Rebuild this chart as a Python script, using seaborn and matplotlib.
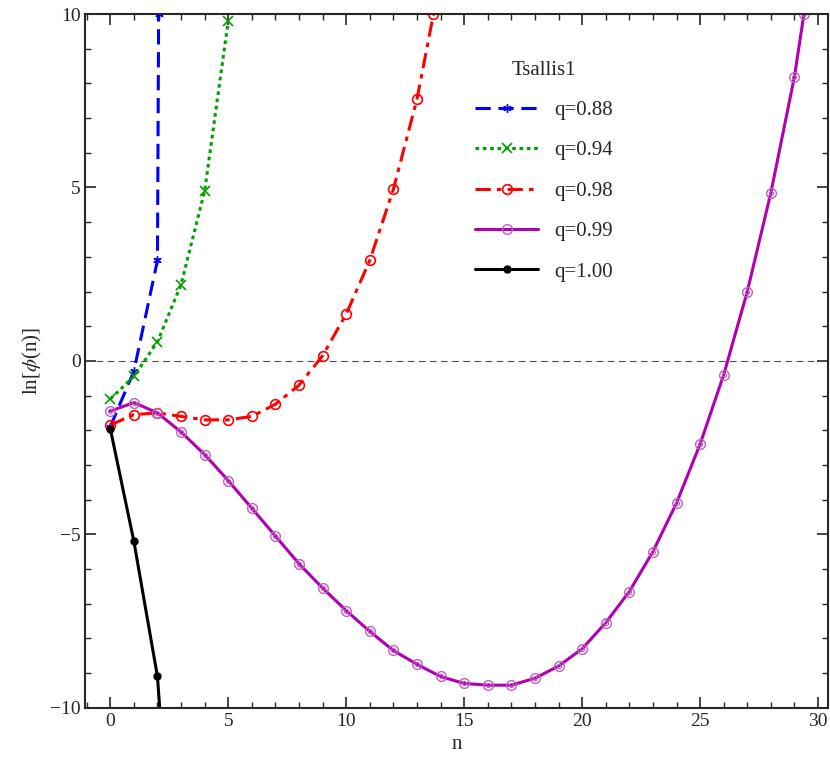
import matplotlib
matplotlib.use("Agg")
import matplotlib.pyplot as plt
import seaborn as sns
from matplotlib.ticker import MultipleLocator

sns.set_style("ticks")
plt.rcParams["font.family"] = "Liberation Serif"
plt.rcParams["mathtext.fontset"] = "stix"

n_088 = [0, 1, 2, 2.05]
v_088 = [-1.9, -0.3, 2.9, 10.0]
n_094 = [0, 1, 2, 3, 4, 5]
v_094 = [-1.1, -0.45, 0.55, 2.2, 4.9, 9.8]
n_098 = list(range(0, 14)) + [13.7]
v_098 = [-1.85, -1.55, -1.5, -1.6, -1.7, -1.7, -1.6, -1.25, -0.7, 0.15,
         1.35, 2.9, 4.95, 7.55, 10.0]
n_099 = list(range(0, 30)) + [29.4]
v_099 = [-1.45, -1.2, -1.5, -2.05, -2.7, -3.45, -4.25, -5.05, -5.85, -6.55,
         -7.2, -7.8, -8.35, -8.75, -9.1, -9.3, -9.35, -9.35, -9.15, -8.8,
         -8.3, -7.55, -6.65, -5.5, -4.1, -2.4, -0.4, 2.0, 4.85, 8.2, 10.0]
n_100 = [0, 1, 2, 2.2]
v_100 = [-1.95, -5.2, -9.1, -11.0]

fig, ax = plt.subplots(figsize=(8.3, 7.82), dpi=100)
ax.axhline(0, color="0.3", lw=0.8, ls=(0, (6, 4)))

series = [
    (n_088, v_088, "q=0.88", dict(color="#0000ff", ls=(0, (5, 2.5)), marker=(6, 2, 0), ms=6, mew=1)),
    (n_094, v_094, "q=0.94", dict(color="#00a000", ls=(0, (1.2, 1.2)), marker="x", ms=7, mew=1.2)),
    (n_098, v_098, "q=0.98", dict(color="#ff0000", ls=(0, (5, 2, 1.5, 2)), marker="o", ms=7,
                                  mfc="none", mew=1.2)),
    (n_099, v_099, "q=0.99", dict(color="#b000b0", ls="-", marker="o", ms=7, mfc="none",
                                  mec="#c060c0", mew=1)),
    (n_100, v_100, "q=1.00", dict(color="black", ls="-", marker="o", ms=5)),
]
for xs, ys, lab, kw in series:
    ax.plot(xs, ys, lw=2.2, label=lab, **kw)
# inner dot for purple double-circle markers
ax.plot(n_099, v_099, ls="none", marker="o", ms=3, mfc="none", mec="#c060c0", mew=0.8)

ax.set_xlim(-1.05, 30.4)
ax.set_ylim(-10, 10)
ax.xaxis.set_major_locator(MultipleLocator(5))
ax.xaxis.set_minor_locator(MultipleLocator(1))
ax.yaxis.set_major_locator(MultipleLocator(5))
ax.yaxis.set_minor_locator(MultipleLocator(1))
ax.tick_params(which="both", direction="in", top=True, right=True, labelsize=14)
ax.tick_params(which="major", length=8, width=1.2)
ax.tick_params(which="minor", length=4, width=1)
for s in ax.spines.values():
    s.set_linewidth(1.5)
ax.set_xticklabels(["" if t < 0 else f"{int(t)}" for t in ax.get_xticks()])
ax.set_yticklabels([f"{int(t)}".replace("-", "\u2212") for t in ax.get_yticks()])
ax.set_xlabel("n", fontsize=15)
ax.set_ylabel(r"ln[$\phi$(n)]", fontsize=15)

ax.legend(title="Tsallis1", loc="upper left", bbox_to_anchor=(0.5, 0.96),
          frameon=False, fontsize=15, title_fontsize=15,
          handlelength=3, labelspacing=1.0)
plt.subplots_adjust(left=0.103, right=0.997, top=0.982, bottom=0.095)
fig.savefig("out.png", dpi=100)
